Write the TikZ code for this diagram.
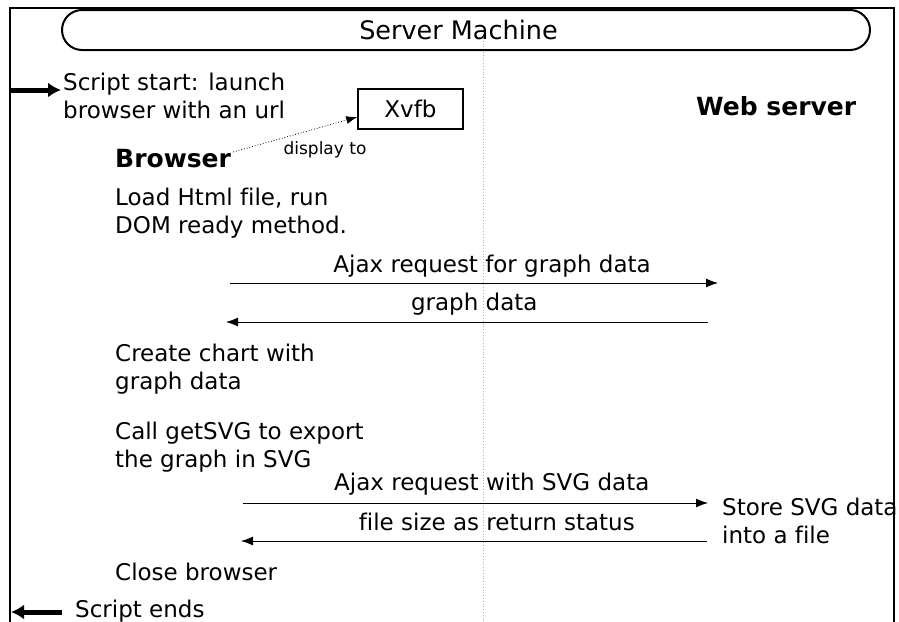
\documentclass[tikz,border=0pt]{standalone}
\usepackage{fontspec}
\setmainfont{DejaVu Sans}[Ligatures=NoCommon]
\usetikzlibrary{arrows.meta}
\begin{document}
\begin{tikzpicture}[x=1pt,y=-1pt,
  txt/.style={inner sep=0pt, anchor=base west, align=left, font=\fontsize{23}{27.5}\selectfont},
  hdr/.style={inner sep=0pt, anchor=base west, font=\fontsize{25}{30}\selectfont\bfseries},
  msg/.style={line width=0.8pt, -{Latex[length=12pt,width=9pt]}},
  lbl/.style={inner sep=0pt, anchor=base, font=\fontsize{23}{27}\selectfont},
  bigarrow/.style={line width=5pt, -{Latex[length=13pt,width=15pt]}},
  ]
\useasboundingbox (0,0) rectangle (899,621);
\fill[white] (0,0) rectangle (899,621);
% frame
\draw[line width=1.6pt] (10,622) -- (10,8) -- (894,8) -- (894,622);
% lifeline
\coordinate (lifetop) at (483,38);
\coordinate (lifebot) at (483,621);
\draw[gray!60, dotted, line width=0.8pt] (lifetop) -- (lifebot);
% server machine
\node[draw, line width=2pt, rounded corners=20pt, minimum width=808pt, minimum height=40pt, inner sep=0pt] (server) at (466,30) {};
\node[font=\fontsize{25.5}{30}\selectfont, inner sep=0pt] (servertxt) at (458.5,30) {Server Machine};
% xvfb
\node[draw, line width=1.5pt, minimum width=105pt, minimum height=40pt, inner sep=0pt, font=\fontsize{23}{27}\selectfont] (xvfb) at (410.5,109) {Xvfb};
% texts
\node[txt] (start) at (63,118) {Script start: launch\\browser with an url};
\node[hdr] (web) at (696,115) {Web server};
\node[hdr] (browser) at (115,167) {Browser};
\node[txt] (load) at (115,233) {Load Html file, run\\DOM ready method.};
\node[txt] (create) at (115,389) {Create chart with\\graph data};
\node[txt] (call) at (115,467) {Call getSVG to export\\the graph in SVG};
\node[txt] (store) at (722,543) {Store SVG data\\into a file};
\node[txt] (close) at (115,580) {Close browser};
\node[txt] (ends) at (75,617) {Script ends};
% display to
\node[font=\fontsize{17}{20}\selectfont, inner sep=0pt, anchor=base] (disp) at (325,154) {display to};
\draw[dotted, line width=0.8pt, -{Latex[length=11pt,width=8pt]}] ([xshift=2pt,yshift=15pt]browser.base east) -- ([yshift=-8pt]xvfb.west);
% messages
\coordinate (m1a) at (230,283); \coordinate (m1b) at (718,283);
\draw[msg] (m1a) -- node[lbl, pos=0.537, yshift=11pt] (m1l) {Ajax request for graph data} (m1b);
\coordinate (m2a) at (708,322); \coordinate (m2b) at (226,322);
\draw[msg] (m2a) -- node[lbl, pos=0.485, yshift=12pt] (m2l) {graph data} (m2b);
\coordinate (m3a) at (243,503); \coordinate (m3b) at (708,503);
\draw[msg] (m3a) -- node[lbl, pos=0.535, yshift=13pt] (m3l) {Ajax request with SVG data} (m3b);
\coordinate (m4a) at (707,541); \coordinate (m4b) at (241,541);
\draw[msg] (m4a) -- node[lbl, pos=0.451, yshift=11pt] (m4l) {file size as return status} (m4b);
% thick arrows
\coordinate (ina) at (10,90); \coordinate (inb) at (61,90);
\draw[bigarrow] (ina) -- (inb);
\coordinate (outa) at (62,612); \coordinate (outb) at (11,612);
\draw[bigarrow] (outa) -- (outb);
\end{tikzpicture}
\end{document}
